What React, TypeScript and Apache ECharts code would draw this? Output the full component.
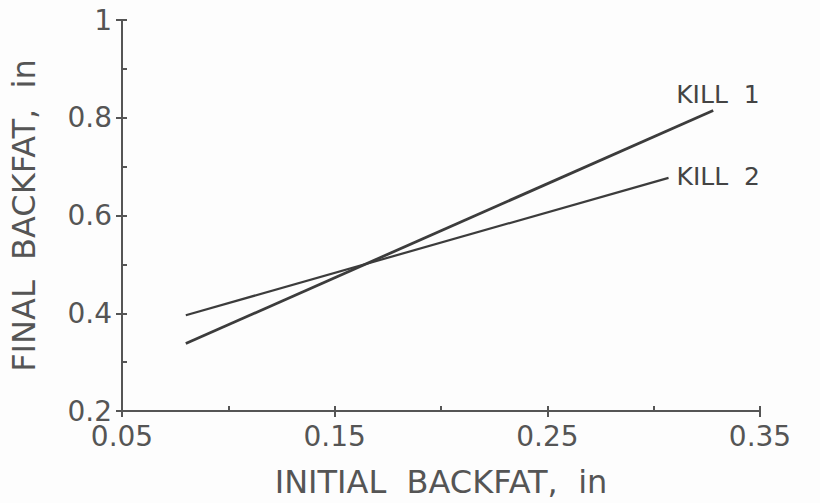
import { useEffect, useRef } from "react";
import * as echarts from "echarts";

// Data
const kill1X = [0.08, 0.328];
const kill1Y = [0.338, 0.815];
const kill2X = [0.08, 0.307];
const kill2Y = [0.396, 0.677];
const seriesNames = ["KILL  1", "KILL  2"];
const xMajorTicks = [0.05, 0.15, 0.25, 0.35];
const yMajorTicks = [0.2, 0.4, 0.6, 0.8, 1];
const xTitle = "INITIAL  BACKFAT,  in";
const yTitle = "FINAL  BACKFAT,  in";

const FONT = "DejaVu Sans";
const INK = "#555555";
const LINE = "#3c3c3c";

function pairs(xs: number[], ys: number[]) {
  return xs.map((x, i) => [x, ys[i]]);
}

export default function App() {
  const ref = useRef<HTMLDivElement>(null);
  useEffect(() => {
    if (!ref.current) return;
    const chart = echarts.init(ref.current, null, { renderer: "svg" });
    const isMajorX = (v: number) => xMajorTicks.some((t) => Math.abs(t - v) < 1e-6);
    const isMajorY = (v: number) => yMajorTicks.some((t) => Math.abs(t - v) < 1e-6);
    chart.setOption({
      animation: false,
      backgroundColor: "#fdfdfd",
      textStyle: { fontFamily: FONT },
      grid: { left: 115, right: 60, top: 20, bottom: 90, containLabel: false },
      xAxis: [
        {
          type: "value",
          min: 0.05,
          max: 0.35,
          interval: 0.05,
          position: "bottom",
          splitLine: { show: false },
          axisLine: { show: true, lineStyle: { color: INK, width: 2 } },
          axisTick: { show: true, inside: true, length: 5, lineStyle: { color: INK, width: 2 } },
          axisLabel: {
            color: INK,
            fontSize: 28,
            fontFamily: FONT,
            margin: 11,
            formatter: (v: number) => (isMajorX(v) ? v.toFixed(2) : ""),
          },
          name: xTitle,
          nameLocation: "middle",
          nameGap: 55,
          nameTextStyle: { color: INK, fontSize: 32, fontFamily: FONT },
        },
        {
          type: "value",
          min: 0.05,
          max: 0.35,
          position: "bottom",
          splitLine: { show: false },
          axisLine: { show: false },
          axisTick: {
            show: true,
            inside: false,
            length: 6,
            customValues: xMajorTicks,
            lineStyle: { color: INK, width: 2 },
          },
          axisLabel: { show: false },
        },
      ],
      yAxis: [
        {
          type: "value",
          min: 0.2,
          max: 1,
          interval: 0.1,
          position: "left",
          splitLine: { show: false },
          axisLine: { show: true, lineStyle: { color: INK, width: 2 } },
          axisTick: { show: true, inside: true, length: 5, lineStyle: { color: INK, width: 2 } },
          axisLabel: {
            color: INK,
            fontSize: 28,
            fontFamily: FONT,
            margin: 10,
            formatter: (v: number) => (isMajorY(v) ? String(+v.toFixed(1)) : ""),
          },
          name: yTitle,
          nameLocation: "middle",
          nameRotate: 90,
          nameGap: 82,
          nameTextStyle: { color: INK, fontSize: 32, fontFamily: FONT },
        },
        {
          type: "value",
          min: 0.2,
          max: 1,
          interval: 0.2,
          position: "left",
          splitLine: { show: false },
          axisLine: { show: false },
          axisTick: { show: true, inside: false, length: 6, lineStyle: { color: INK, width: 2 } },
          axisLabel: { show: false },
        },
      ],
      series: [
        {
          name: seriesNames[0],
          type: "line",
          xAxisIndex: 0,
          yAxisIndex: 0,
          data: pairs(kill1X, kill1Y),
          symbol: "none",
          lineStyle: { color: LINE, width: 2.8 },
          endLabel: {
            show: true,
            formatter: "{a}",
            color: "#444",
            fontSize: 25,
            fontFamily: FONT,
            distance: 5,
            offset: [-42, -16],
          },
        },
        {
          name: seriesNames[1],
          type: "line",
          xAxisIndex: 0,
          yAxisIndex: 0,
          data: pairs(kill2X, kill2Y),
          symbol: "none",
          lineStyle: { color: LINE, width: 2.2 },
          endLabel: {
            show: true,
            formatter: "{a}",
            color: "#444",
            fontSize: 25,
            fontFamily: FONT,
            distance: 8,
            offset: [0, -1],
          },
        },
      ],
    });
    return () => chart.dispose();
  }, []);
  return (
    <div
      ref={ref}
      style={{ position: "fixed", left: 0, top: 0, width: 820, height: 503 }}
    />
  );
}
